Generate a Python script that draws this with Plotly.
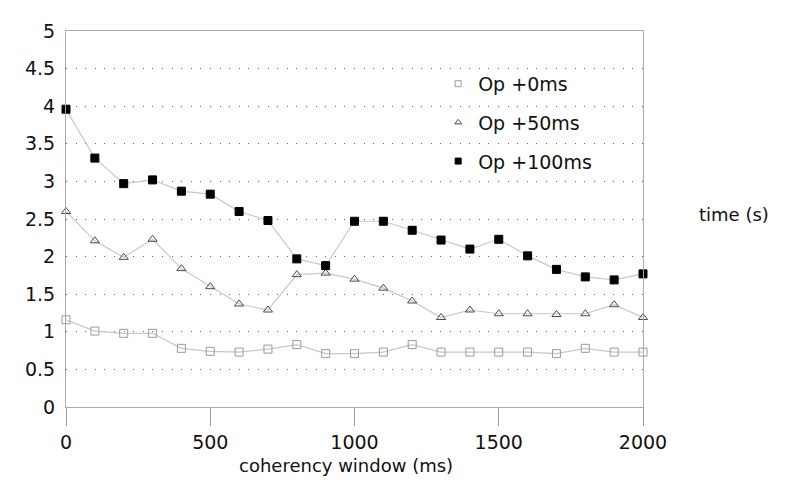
import plotly.graph_objects as go

window_ms = [0, 100, 200, 300, 400, 500, 600, 700, 800, 900, 1000,
             1100, 1200, 1300, 1400, 1500, 1600, 1700, 1800, 1900, 2000]
op_0ms = [1.16, 1.01, 0.98, 0.98, 0.78, 0.74, 0.73, 0.77, 0.83, 0.71, 0.71,
          0.73, 0.83, 0.73, 0.73, 0.73, 0.73, 0.71, 0.78, 0.73, 0.73]
op_50ms = [2.60, 2.21, 1.99, 2.23, 1.84, 1.60, 1.37, 1.29, 1.76, 1.78, 1.70,
           1.58, 1.41, 1.19, 1.29, 1.24, 1.24, 1.23, 1.24, 1.36, 1.19]
op_100ms = [3.96, 3.31, 2.97, 3.02, 2.87, 2.83, 2.60, 2.48, 1.97, 1.88, 2.47,
            2.47, 2.35, 2.22, 2.10, 2.23, 2.01, 1.83, 1.73, 1.69, 1.77]
series_names = ["Op +0ms", "Op +50ms", "Op +100ms"]
x_ticks = [0, 500, 1000, 1500, 2000]
y_ticks = [0, 0.5, 1, 1.5, 2, 2.5, 3, 3.5, 4, 4.5, 5]
y_tick_labels = ["0", "0.5", "1", "1.5", "2", "2.5", "3", "3.5", "4", "4.5", "5"]

FONT = "DejaVu Sans"
styles = [
    dict(symbol="square-open", color="#9a9a9a", size=8),
    dict(symbol="triangle-up-open", color="#4a4a4a", size=8),
    dict(symbol="square", color="#000000", size=8),
]
data = [op_0ms, op_50ms, op_100ms]

fig = go.Figure()
for name, ys, st in zip(series_names, data, styles):
    fig.add_trace(go.Scatter(
        x=window_ms, y=ys, mode="lines+markers", name=name,
        line=dict(color="#c8c8c8", width=1.2),
        marker=dict(symbol=st["symbol"], size=st["size"], color=st["color"],
                    line=dict(color=st["color"], width=1)),
        showlegend=False, cliponaxis=False,
    ))
for i, (name, st) in enumerate(zip(series_names, styles)):
    fig.add_trace(go.Scatter(
        x=[None], y=[None], mode="markers", name=name, legendgroup=f"g{i}",
        marker=dict(symbol=st["symbol"], size=6, color=st["color"],
                    line=dict(color=st["color"], width=1)),
        showlegend=True,
    ))

fig.update_layout(
    width=787, height=501,
    margin=dict(l=58, r=152, t=14, b=102),
    paper_bgcolor="white", plot_bgcolor="white",
    font=dict(family=FONT, size=19, color="#111"),
    legend=dict(x=0.645, y=0.91, xanchor="left", yanchor="top",
                bgcolor="rgba(0,0,0,0)", tracegroupgap=11,
                font=dict(family=FONT, size=19, color="#111")),
    xaxis=dict(range=[0, 2000], tickvals=x_ticks, ticks="outside", ticklen=18,
               tickcolor="#999999", tickwidth=1,
               showline=True, linecolor="#aaaaaa", linewidth=1, mirror=True,
               showgrid=False, zeroline=False,
               tickfont=dict(family=FONT, size=19, color="#111")),
    yaxis=dict(range=[0, 5], tickvals=y_ticks, ticktext=y_tick_labels,
               ticks="", ticklabelstandoff=6,
               showline=True, linecolor="#aaaaaa", linewidth=1, mirror=True,
               showgrid=True, gridcolor="#666666", gridwidth=1,
               griddash="1px,8.6px", zeroline=False,
               tickfont=dict(family=FONT, size=19, color="#111")),
    annotations=[
        dict(text="time (s)", xref="paper", yref="paper", x=1.158, y=0.512,
             xanchor="center", yanchor="middle", showarrow=False,
             font=dict(family=FONT, size=18, color="#111")),
        dict(text="coherency window (ms)", xref="paper", yref="paper",
             x=0.485, y=-0.155, xanchor="center", yanchor="middle",
             showarrow=False, font=dict(family=FONT, size=18, color="#111")),
    ],
)
fig.write_html("out.html")
